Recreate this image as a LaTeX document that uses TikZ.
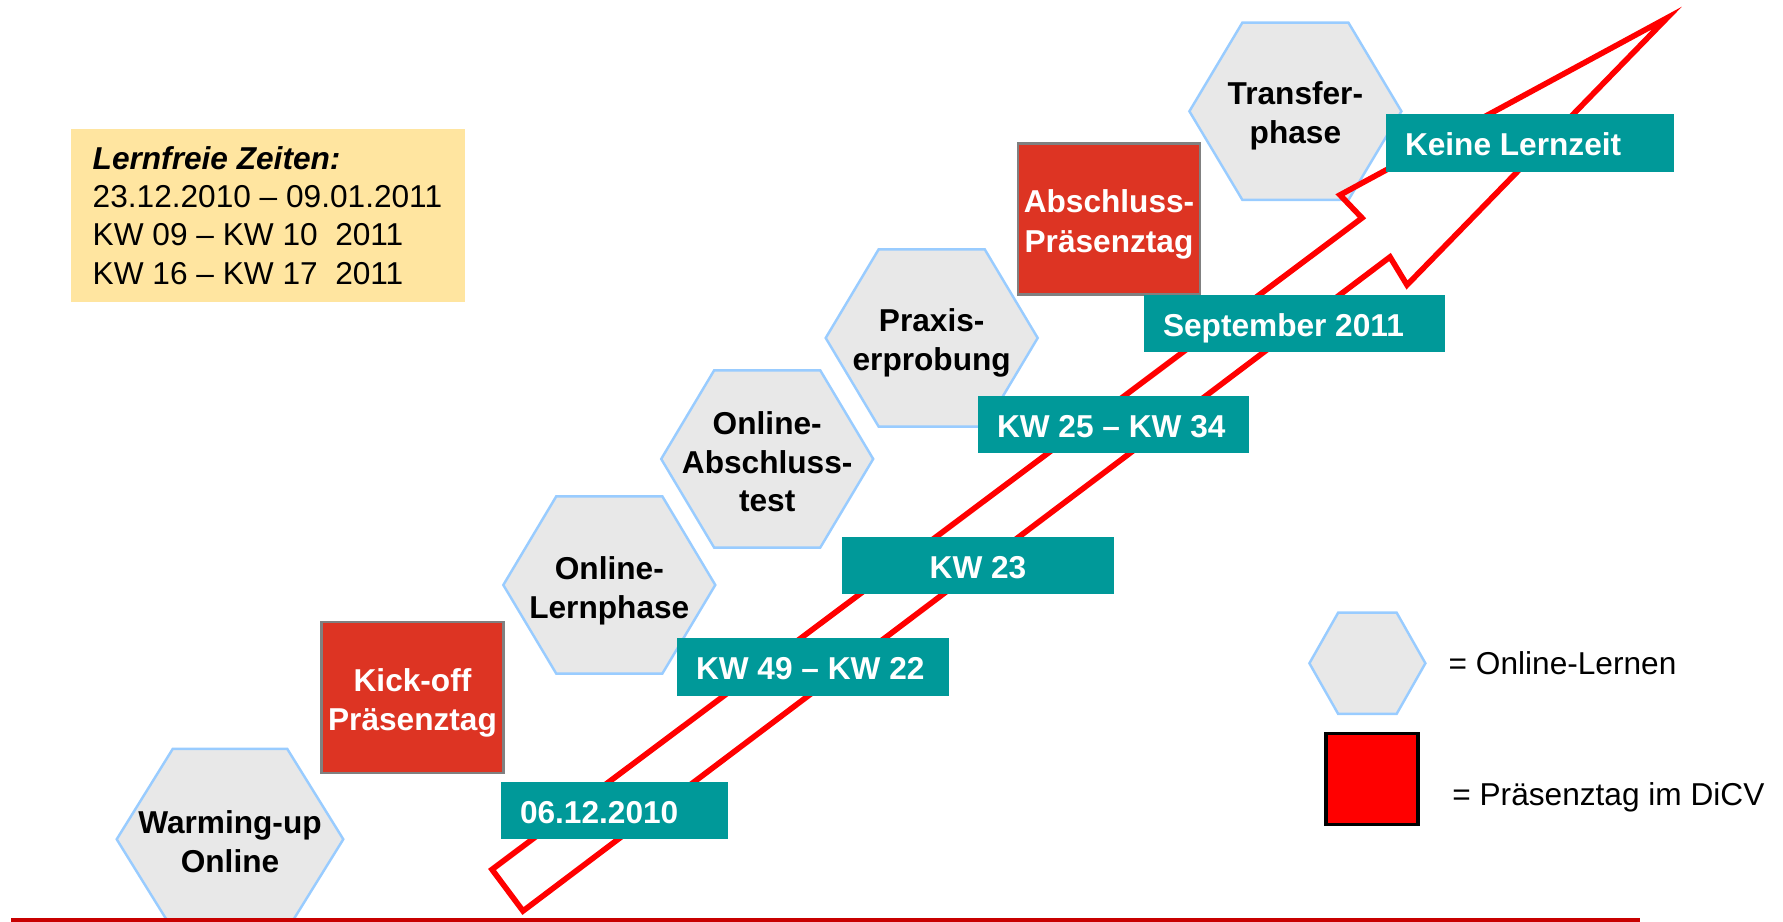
\documentclass[tikz,border=0pt]{standalone}
\usepackage{fontspec}
\setmainfont{Liberation Sans}
\usepackage{xcolor}
\usepackage{tikz}
\definecolor{figteal}{RGB}{0,153,153}
\definecolor{figbox}{RGB}{221,52,35}
\definecolor{fighex}{RGB}{232,232,232}
\definecolor{fighexline}{RGB}{153,204,255}
\definecolor{figfree}{RGB}{255,229,160}
\definecolor{figred}{RGB}{255,0,0}
\definecolor{figbase}{RGB}{200,0,0}
\tikzset{
  hx/.style  ={fill=fighex, draw=fighexline, line width=0.7pt},
  hxt/.style ={font=\fontsize{9}{11}\selectfont\bfseries, align=center, inner sep=0pt},
  dat/.style ={fill=figteal, text=white, font=\fontsize{9}{11}\selectfont\bfseries, minimum height=0.575cm, inner xsep=0.19cm, inner ysep=0pt, text height=7.2pt, text depth=0pt},
  prs/.style ={fill=figbox, draw=black!50, line width=0.6pt, text=white, font=\fontsize{9}{11.3}\selectfont\bfseries, align=center, inner sep=0pt, text height=21pt, minimum width=1.82cm, minimum height=1.51cm},
  arr/.style ={draw=figred, line width=1.6pt, line join=miter},
  leg/.style ={font=\fontsize{9}{11}\selectfont, inner sep=0pt, anchor=base west},
}
\begin{document}
\begin{tikzpicture}[scale=1]
  \useasboundingbox (0,0) rectangle (17.83,9.22);
  \clip (0,0) rectangle (17.83,9.22);
  \fill[figfree] (0.71,6.20) rectangle (4.65,7.93);
  \node[inner sep=0pt, anchor=west, align=left, font=\fontsize{9}{10.9}\selectfont] (frei) at (0.92,7.065) {\textbf{\textit{Lernfreie Zeiten:}}\\23.12.2010 – 09.01.2011\\KW 09 – KW 10~~2011\\KW 16 – KW 17~~2011};
  \draw[hx] (1.167,0.827) -- ++(0.56,0.903) -- ++(1.146,0) -- ++(0.56,-0.903) -- ++(-0.56,-0.903) -- ++(-1.146,0) -- cycle;
  \node[hxt] (warmup) at (2.30,0.80) {Warming-up\\Online};
  \draw[hx] (5.033,3.37) -- ++(0.53,0.887) -- ++(1.06,0) -- ++(0.53,-0.887) -- ++(-0.53,-0.887) -- ++(-1.06,0) -- cycle;
  \node[hxt] (lernphase) at (6.093,3.31) {Online-\\Lernphase};
  \draw[hx] (6.612,4.63) -- ++(0.53,0.887) -- ++(1.06,0) -- ++(0.53,-0.887) -- ++(-0.53,-0.887) -- ++(-1.06,0) -- cycle;
  \node[hxt] (abtest) at (7.672,4.60) {Online-\\Abschluss-\\test};
  \draw[hx] (8.257,5.84) -- ++(0.53,0.887) -- ++(1.06,0) -- ++(0.53,-0.887) -- ++(-0.53,-0.887) -- ++(-1.06,0) -- cycle;
  \node[hxt] (praxis) at (9.317,5.79) {Praxis-\\erprobung};
  \draw[hx] (11.894,8.107) -- ++(0.53,0.887) -- ++(1.06,0) -- ++(0.53,-0.887) -- ++(-0.53,-0.887) -- ++(-1.06,0) -- cycle;
  \node[hxt] (transfer) at (12.954,8.06) {Transfer-\\phase};
  \node[prs] (kickoff) at (4.125,2.248) {Kick-off\\Präsenztag};
  \node[prs] (abschluss) at (11.09,7.03) {Abschluss-\\Präsenztag};
  \draw[arr] (16.67,9.04) -- (13.40,7.27) -- (13.62,7.04) -- (4.92,0.525) -- (5.23,0.11) -- (13.90,6.65) -- (14.07,6.37) -- cycle;
  \node[dat] (d1) at (6.145,1.115) {\makebox[1.89cm][l]{06.12.2010}};
  \node[dat] (d2) at (8.13,2.55) {\makebox[2.34cm][l]{KW 49 – KW 22}};
  \node[dat] (d3) at (9.78,3.565) {\makebox[2.34cm][c]{KW 23}};
  \node[dat] (d4) at (11.135,4.975) {\makebox[2.33cm][l]{KW 25 – KW 34}};
  \node[dat] (d5) at (12.945,5.985) {\makebox[2.63cm][l]{September 2011}};
  \node[dat] (d6) at (15.30,7.79) {\makebox[2.50cm][l]{Keine Lernzeit}};
  \draw[hx] (13.094,2.587) -- ++(0.288,0.507) -- ++(0.584,0) -- ++(0.288,-0.507) -- ++(-0.288,-0.507) -- ++(-0.584,0) -- cycle;
  \node[leg] (legon) at (14.48,2.474) {= Online-Lernen};
  \node[draw=black, line width=0.9pt, fill=figred, minimum width=0.92cm, minimum height=0.91cm, inner sep=0pt] (legbox) at (13.72,1.432) {};
  \node[leg] (legpr) at (14.517,1.167) {= Präsenztag im DiCV};
  \draw[draw=figbase, line width=0.04cm] (0.11,0.02) -- (16.40,0.02);
\end{tikzpicture}
\end{document}
